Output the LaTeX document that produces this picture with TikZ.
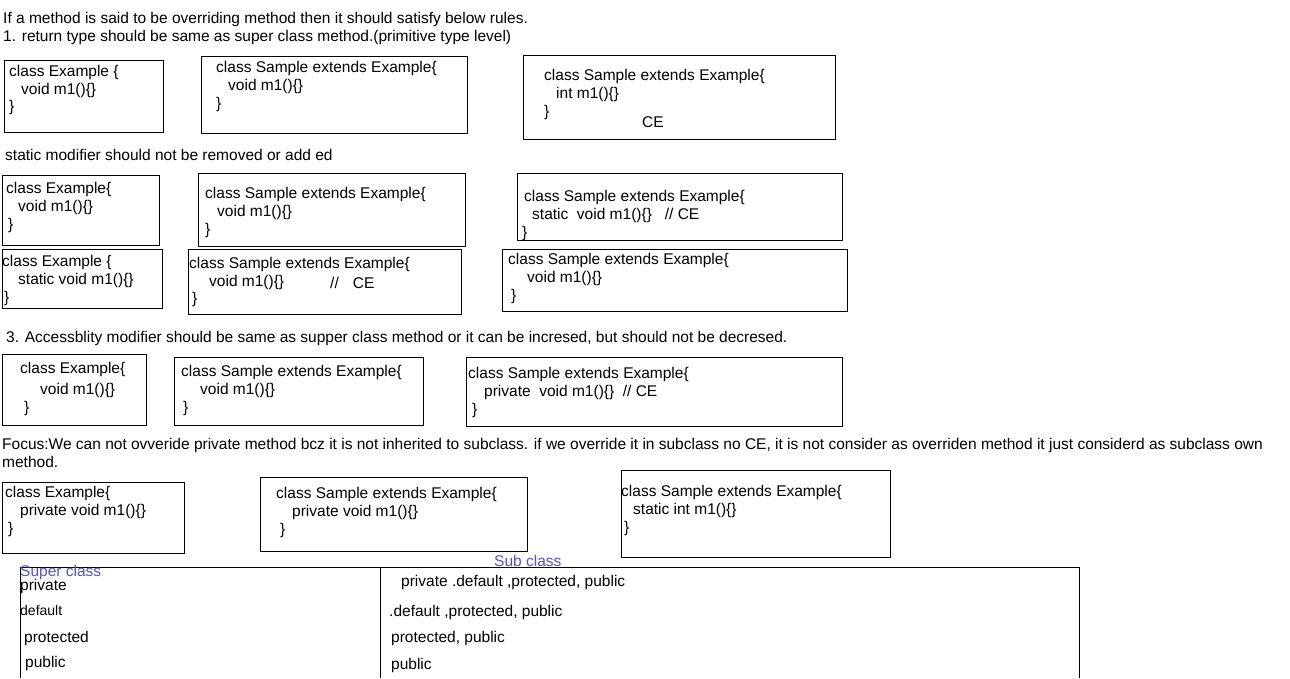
\documentclass[tikz,border=0pt]{standalone}
\usepackage{fontspec}
\setmainfont{Liberation Sans}
\definecolor{hdrblue}{RGB}{80,80,225}
\tikzset{
  txt/.style={anchor=base west, inner sep=0pt, font=\fontsize{15.5}{18}\selectfont},
  small/.style={txt, font=\fontsize{14}{16}\selectfont},
  hdr/.style={txt, text=hdrblue},
  box/.style={draw, line width=1pt}
}
\begin{document}
\begin{tikzpicture}[x=1pt,y=-1pt]
  \useasboundingbox (0,0) rectangle (1290,678);
  % rules
  \draw
    (3,23) node[txt] (r0){If a method is said to be overriding method then it should satisfy below rules.}
    (3,41) node[txt] (r1){1. return type should be same as super class method.(primitive type level)}
    (5,160) node[txt] (r2){static modifier should not be removed or add ed}
    (6,342) node[txt] (r3){3. Accessblity modifier should be same as supper class method or it can be incresed, but should not be decresed.}
    (2,449) node[txt] (r4){Focus:We can not ovveride private method bcz it is not inherited to subclass. if we override it in subclass no CE, it is not consider as overriden method it just considerd as subclass own}
    (2,467) node[txt] (r5){method.};
  % return type
  \draw[box] (4,60) rectangle (163,132);
  \draw[box] (201,56) rectangle (467,133);
  \draw[box] (523,55) rectangle (835,139);
  \draw
    (9,76) node[txt] (a1){class Example \{}
    (21,94) node[txt] (a2){void m1()\{\}}
    (9,111) node[txt] (a3){\}}
    (216,72) node[txt] (b1){class Sample extends Example\{}
    (228,90) node[txt] (b2){void m1()\{\}}
    (216,108) node[txt] (b3){\}}
    (544,80) node[txt] (c1){class Sample extends Example\{}
    (556,98) node[txt] (c2){int m1()\{\}}
    (544,116) node[txt] (c3){\}}
    (642,127) node[txt] (c4){CE};
  % static
  \draw[box] (2,175) rectangle (159,245);
  \draw[box] (198,173) rectangle (465,246);
  \draw[box] (517,173) rectangle (842,240);
  \draw[box] (2,249) rectangle (162,308);
  \draw[box] (188,249) rectangle (461,314);
  \draw[box] (502,249) rectangle (847,311);
  \draw
    (6,193) node[txt] (d1){class Example\{}
    (18,211) node[txt] (d2){void m1()\{\}}
    (8,229) node[txt] (d3){\}}
    (205,198) node[txt] (e1){class Sample extends Example\{}
    (217,216) node[txt] (e2){void m1()\{\}}
    (205,234) node[txt] (e3){\}}
    (524,201) node[txt] (f1){class Sample extends Example\{}
    (532,219) node[txt] (f2){static\ \ void m1()\{\}\ \ \ // CE}
    (522,237) node[txt] (f3){\}}
    (2,266) node[txt] (g1){class Example \{}
    (18,284) node[txt] (g2){static void m1()\{\}}
    (4,302) node[txt] (g3){\}}
    (189,268) node[txt] (h1){class Sample extends Example\{}
    (209,286) node[txt] (h2){void m1()\{\}}
    (330,288) node[txt] (h4){//\hspace{14pt}CE}
    (192,303) node[txt] (h3){\}}
    (508,264) node[txt] (i1){class Sample extends Example\{}
    (527,282) node[txt] (i2){void m1()\{\}}
    (511,300) node[txt] (i3){\}};
  % access modifier
  \draw[box] (2,354) rectangle (146,425);
  \draw[box] (174,357) rectangle (423,425);
  \draw[box] (466,357) rectangle (842,426);
  \draw
    (20,373) node[txt] (j1){class Example\{}
    (40,394) node[txt] (j2){void m1()\{\}}
    (24,412) node[txt] (j3){\}}
    (181,376) node[txt] (k1){class Sample extends Example\{}
    (200,394) node[txt] (k2){void m1()\{\}}
    (183,412) node[txt] (k3){\}}
    (468,378) node[txt] (l1){class Sample extends Example\{}
    (484,396) node[txt] (l2){private\ \ void m1()\{\}\ \ // CE}
    (472,414) node[txt] (l3){\}};
  % private
  \draw[box] (2,482) rectangle (184,553);
  \draw[box] (260,477) rectangle (527,551);
  \draw[box] (621,470) rectangle (890,557);
  \draw
    (5,497) node[txt] (m1){class Example\{}
    (20,515) node[txt] (m2){private void m1()\{\}}
    (8,533) node[txt] (m3){\}}
    (276,498) node[txt] (n1){class Sample extends Example\{}
    (292,516) node[txt] (n2){private void m1()\{\}}
    (280,534) node[txt] (n3){\}}
    (621,496) node[txt] (o1){class Sample extends Example\{}
    (633,514) node[txt] (o2){static int m1()\{\}}
    (624,532) node[txt] (o3){\}};
  % table
  \draw[line width=1pt] (20,678) -- (20,567) -- (1079,567) -- (1079,678);
  \draw[line width=1pt] (380,567) -- (380,678);
  \draw
    (494,566) node[hdr] (sub){Sub class}
    (20,576) node[hdr] (sup){Super class}
    (20,590) node[txt] (p1){private}
    (20,615) node[small] (p2){default}
    (24,642) node[txt] (p3){protected}
    (25,667) node[txt] (p4){public}
    (401,586) node[txt] (q1){private .default ,protected, public}
    (389,616) node[txt] (q2){.default ,protected, public}
    (391,642) node[txt] (q3){protected, public}
    (391,669) node[txt] (q4){public};
\end{tikzpicture}
\end{document}
